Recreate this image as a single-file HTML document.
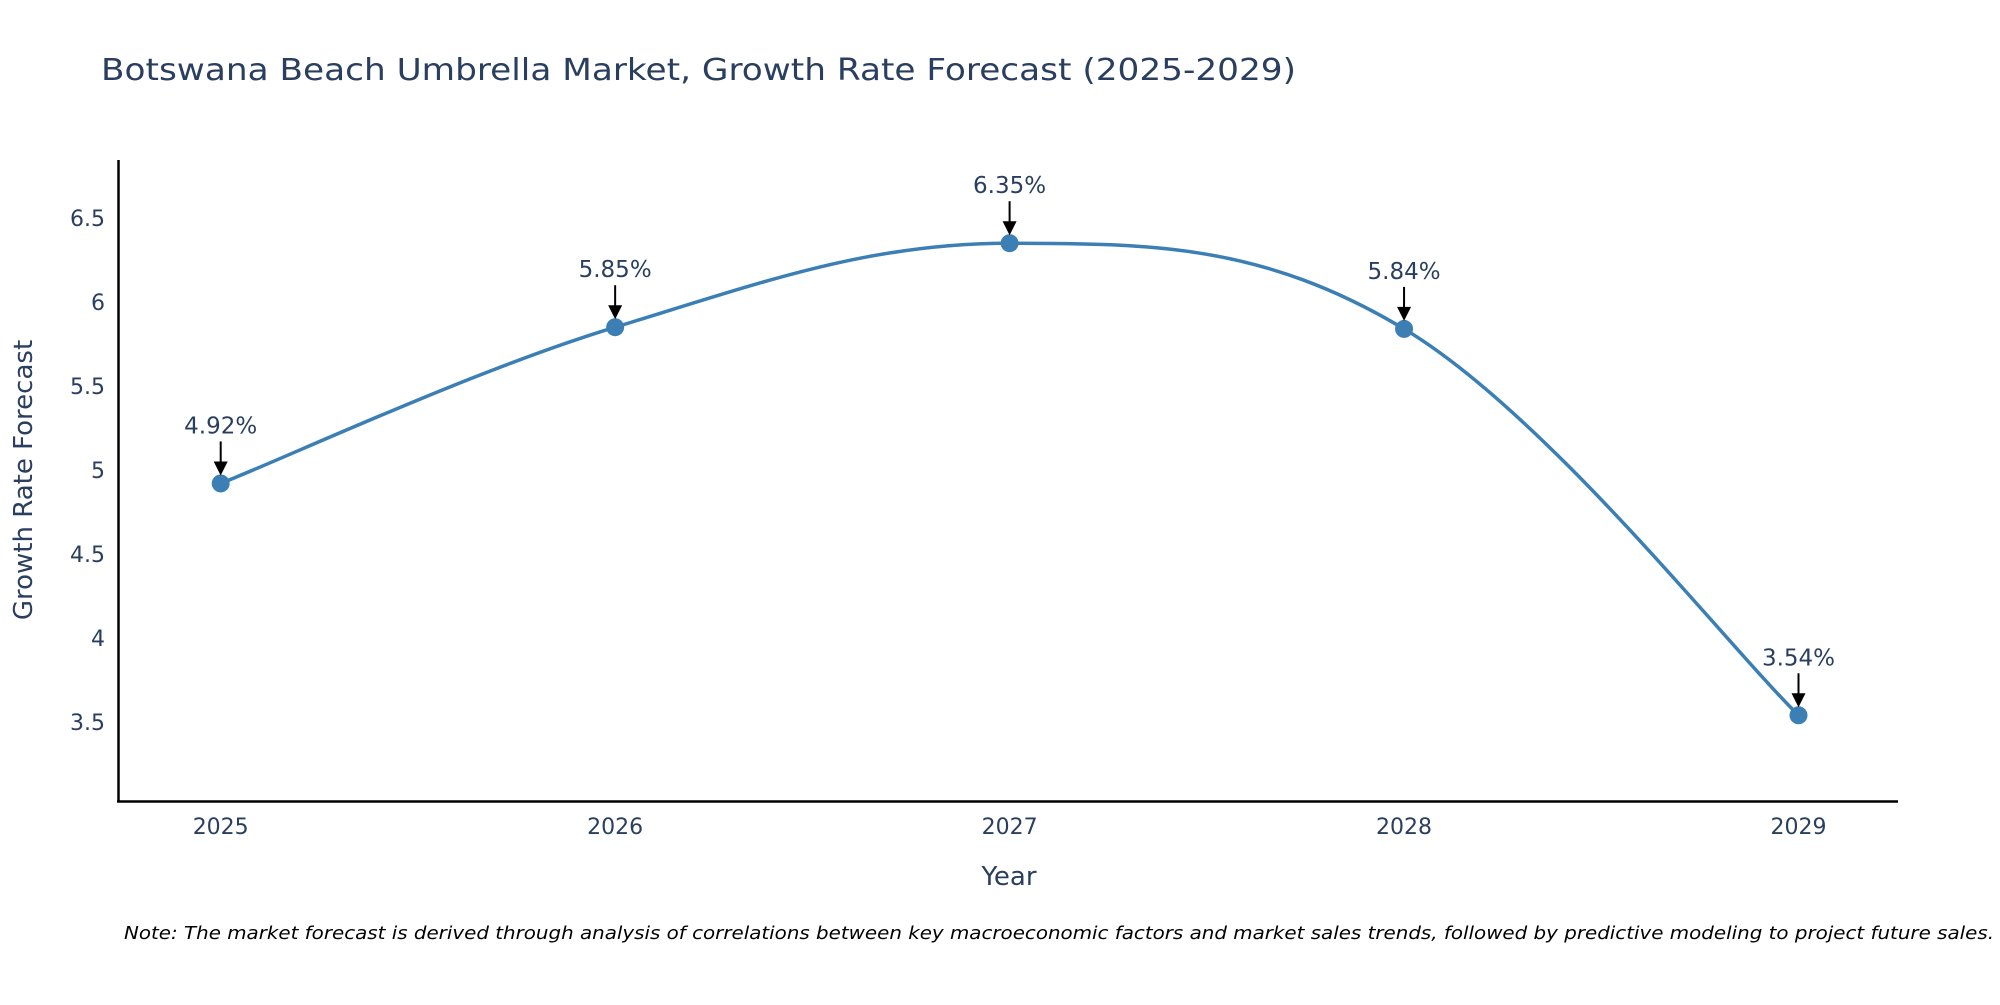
<!DOCTYPE html>
<html><head><meta charset="utf-8"><style>
body{margin:0;background:#fff;}
svg text{font-family:"DejaVu Sans","Liberation Sans",sans-serif;}
</style></head><body>
<svg id="chart" width="2000" height="1000" xmlns="http://www.w3.org/2000/svg">
<rect width="2000" height="1000" fill="#fff"/>
<text x="101" y="80" font-size="30" fill="#2a3f5f" textLength="1195" lengthAdjust="spacingAndGlyphs">Botswana Beach Umbrella Market, Growth Rate Forecast (2025-2029)</text>
<g id="yticks"></g>
<g id="xticks"></g>
<line x1="118.5" y1="160" x2="118.5" y2="802" stroke="#000" stroke-width="2.5"/>
<line x1="117" y1="801.5" x2="1898" y2="801.5" stroke="#000" stroke-width="2.5"/>
<path id="line" fill="none" stroke="#3b7fb4" stroke-width="3.5"/>
<g id="marks"></g>
<text x="32" y="480" font-size="26" fill="#2a3f5f" text-anchor="middle" transform="rotate(-90 32 480)">Growth Rate Forecast</text>
<text x="1009" y="885" font-size="26" fill="#2a3f5f" text-anchor="middle">Year</text>
<text x="124" y="939" font-size="18" font-style="italic" fill="#000" textLength="1870" lengthAdjust="spacingAndGlyphs">Note: The market forecast is derived through analysis of correlations between key macroeconomic factors and market sales trends, followed by predictive modeling to project future sales.</text>
</svg>
<script>
const years = [2025, 2026, 2027, 2028, 2029];
const growth = [4.92, 5.85, 6.35, 5.84, 3.54];
const yTickVals = [3.5, 4, 4.5, 5, 5.5, 6, 6.5];
const yTickLabels = ["3.5", "4", "4.5", "5", "5.5", "6", "6.5"];

const NS = "http://www.w3.org/2000/svg";
const xScale = v => 220.7 + (v - 2025) * (1798.5 - 220.7) / 4;
const yScale = v => 722 - (v - 3.5) * (722 - 218) / 3;
function mk(tag, attrs, parent) {
  const e = document.createElementNS(NS, tag);
  for (const k in attrs) e.setAttribute(k, attrs[k]);
  parent.appendChild(e); return e;
}
const yt = document.getElementById('yticks');
yTickVals.forEach((v, i) => {
  const t = mk('text', {x: 105, y: yScale(v) + 8, 'font-size': 22, fill: '#2a3f5f', 'text-anchor': 'end'}, yt);
  
  
  t.textContent = yTickLabels[i];
});
const xt = document.getElementById('xticks');
years.forEach(y => {
  const t = mk('text', {x: xScale(y), y: 834, 'font-size': 22, fill: '#2a3f5f', 'text-anchor': 'middle'}, xt);
  
  
  t.textContent = String(y);
});
const pts = years.map((y, i) => [xScale(y), yScale(growth[i])]);
let d = `M${pts[0][0]},${pts[0][1]}`;
const k = 0.18;
for (let i = 0; i < pts.length - 1; i++) {
  const p0 = pts[Math.max(0, i - 1)], p1 = pts[i], p2 = pts[i + 1], p3 = pts[Math.min(pts.length - 1, i + 2)];
  const c1 = [p1[0] + (p2[0] - p0[0]) * k, p1[1] + (p2[1] - p0[1]) * k];
  const c2 = [p2[0] - (p3[0] - p1[0]) * k, p2[1] - (p3[1] - p1[1]) * k];
  d += ` C${c1[0]},${c1[1]} ${c2[0]},${c2[1]} ${p2[0]},${p2[1]}`;
}
document.getElementById('line').setAttribute('d', d);
const mg = document.getElementById('marks');
pts.forEach((p, i) => {
  const c = mk('circle', {cx: p[0], cy: p[1], r: 9, fill: '#3b7fb4'}, mg);
  
  
  const l = mk('line', {x1: p[0], y1: p[1] - 42, x2: p[0], y2: p[1] - 20, stroke: '#000', 'stroke-width': 2}, mg);
  
  
  const h = mk('polygon', {points: `${p[0]-7},${p[1]-22} ${p[0]+7},${p[1]-22} ${p[0]},${p[1]-8}`, fill: '#000'}, mg);
  
  
  const t = mk('text', {x: p[0], y: p[1] - 50, 'font-size': 23, fill: '#2a3f5f', 'text-anchor': 'middle'}, mg);
  
  
  t.textContent = growth[i].toFixed(2) + '%';
});
</script>
</body></html>
